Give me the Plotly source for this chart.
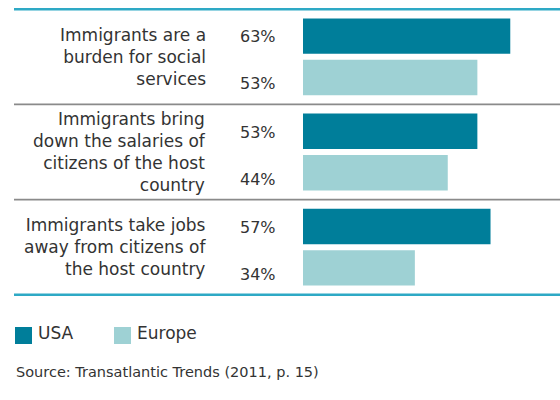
import plotly.graph_objects as go

# ---- data ----
categories = [
    "Immigrants are a<br>burden for social<br>services",
    "Immigrants bring<br>down the salaries of<br>citizens of the host<br>country",
    "Immigrants take jobs<br>away from citizens of<br>the host country",
]
series_names = ["USA", "Europe"]
usa_values = [63, 53, 57]
europe_values = [53, 44, 34]
source_text = "Source: Transatlantic Trends (2011, p. 15)"

# ---- style ----
FONT = "DejaVu Sans"
TEXT_COLOR = "#333333"
USA_COLOR = "#007e9a"
EUROPE_COLOR = "#9ed1d4"
CYAN_LINE = "#2ea9c5"
GRAY_LINE = "#8a8a8a"

W, H = 560, 400
ML, MR, MT, MB = 303, 0, 8, 104
PW = W - ML - MR
PX_PER_UNIT = 3.29
xmax = PW / PX_PER_UNIT

fig = go.Figure()
for name, vals, col in [("USA", usa_values, USA_COLOR), ("Europe", europe_values, EUROPE_COLOR)]:
    fig.add_trace(go.Bar(
        y=categories, x=vals, name=name, orientation="h",
        marker=dict(color=col, line=dict(width=0)),
        showlegend=False, hoverinfo="skip",
    ))

shapes = []
n = len(categories)
# top and bottom cyan rules, gray separators
for ypos, col, w in [(-0.5, CYAN_LINE, 2.5), (n - 0.5, CYAN_LINE, 2.5)] + \
        [(i + 0.5, GRAY_LINE, 1.6) for i in range(n - 1)]:
    shapes.append(dict(
        type="line", xref="paper", xsizemode="pixel", xanchor=0,
        x0=14 - ML, x1=W - ML, yref="y", y0=ypos, y1=ypos,
        line=dict(color=col, width=w), layer="above",
    ))

annotations = []
for i, cat in enumerate(categories):
    annotations.append(dict(
        text=cat, xref="paper", x=0, xshift=-95, xanchor="right",
        yref="y", y=cat, yanchor="middle", align="right", showarrow=False,
        font=dict(family=FONT, size=17, color=TEXT_COLOR),
    ))
    for vals, ysh in [(usa_values, 20), (europe_values, -27)]:
        annotations.append(dict(
            text=f"{vals[i]}%", xref="paper", x=0, xshift=-25, xanchor="right",
            yref="y", y=cat, yshift=ysh, yanchor="middle", showarrow=False,
            font=dict(family=FONT, size=16, color=TEXT_COLOR),
        ))

# legend (manual swatches to match size)
legend_items = [(series_names[0], USA_COLOR, 15), (series_names[1], EUROPE_COLOR, 114)]
for name, col, lx in legend_items:
    shapes.append(dict(
        type="rect", xref="paper", xsizemode="pixel", xanchor=0,
        x0=lx - ML, x1=lx + 17 - ML,
        yref="paper", ysizemode="pixel", yanchor=0, y0=-31, y1=-48,
        fillcolor=col, line=dict(width=0),
    ))
    annotations.append(dict(
        text=name, xref="paper", x=0, xshift=lx + 22 - ML - 1, xanchor="left",
        yref="paper", y=0, yshift=-37, yanchor="middle", showarrow=False,
        font=dict(family=FONT, size=17, color=TEXT_COLOR),
    ))

annotations.append(dict(
    text=source_text, xref="paper", x=0, xshift=15 - ML - 1, xanchor="left",
    yref="paper", y=0, yshift=-76, yanchor="middle", showarrow=False,
    font=dict(family=FONT, size=14.5, color=TEXT_COLOR),
))

fig.update_layout(
    width=W, height=H,
    margin=dict(l=ML, r=MR, t=MT, b=MB, pad=0),
    paper_bgcolor="white", plot_bgcolor="white",
    barmode="group", bargap=0.13, bargroupgap=0.143,
    xaxis=dict(range=[0, xmax], visible=False, fixedrange=True),
    yaxis=dict(autorange="reversed", visible=False, fixedrange=True,
               range=None),
    shapes=shapes, annotations=annotations,
    font=dict(family=FONT, color=TEXT_COLOR),
)

fig.write_html("out.html", config={"displayModeBar": False})
